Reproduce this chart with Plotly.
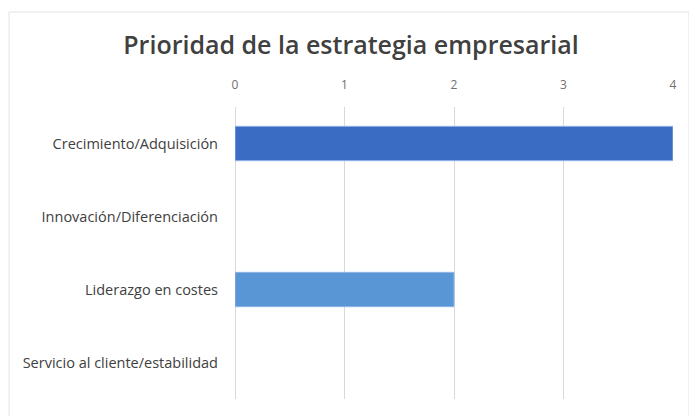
import plotly.graph_objects as go

# Strategy categories (top to bottom) and their counts
categories = [
    "Crecimiento/Adquisición",
    "Innovación/Diferenciación",
    "Liderazgo en costes",
    "Servicio al cliente/estabilidad",
]
counts = [4, 0, 2, 0]
bar_colors = ["#3a6cc4", "#3a6cc4", "#5896d6", "#3a6cc4"]

x_ticks = [0, 1, 2, 3, 4]

fig = go.Figure(
    go.Bar(
        y=categories,
        x=counts,
        orientation="h",
        marker=dict(
            color=bar_colors,
            line=dict(color="#8fb4e6", width=[1 if v > 0 else 0 for v in counts]),
        ),
        width=0.47,
        hoverinfo="x+y",
    )
)

L, R, T, B = 235, 14, 107, 17
W, H = 689, 416
pw = W - L - R
ph = H - T - B

fig.update_layout(
    width=W,
    height=H,
    margin=dict(l=L, r=R, t=T, b=B),
    paper_bgcolor="white",
    plot_bgcolor="white",
    showlegend=False,
    font=dict(family="Open Sans, sans-serif", color="#595959"),
    title=dict(
        text="Prioridad de la estrategia empresarial",
        x=351 / W,
        xanchor="center",
        y=1 - 45 / H,
        yanchor="middle",
        font=dict(size=25, color="#404040", weight=600),
    ),
    xaxis=dict(
        side="top",
        range=[0, 4],
        tickvals=x_ticks,
        ticktext=[str(v) for v in x_ticks],
        showgrid=True,
        gridcolor="#d9d9d9",
        gridwidth=1,
        zeroline=True,
        zerolinecolor="#d9d9d9",
        zerolinewidth=1,
        showline=False,
        tickfont=dict(size=12, color="#707070"),
        ticklabelstandoff=15,
        fixedrange=True,
    ),
    yaxis=dict(
        categoryorder="array",
        categoryarray=categories[::-1],
        showgrid=False,
        zeroline=False,
        showline=False,
        tickfont=dict(size=14.5, color="#404040"),
        ticklabelstandoff=16,
        fixedrange=True,
    ),
    shapes=[
        dict(
            type="rect",
            xref="paper",
            yref="paper",
            x0=(8 - L) / pw,
            x1=(W + 2 - L) / pw,
            y0=(-B - 5) / ph,
            y1=(H - 12 - B) / ph,
            line=dict(color="#e3e3e3", width=1),
            fillcolor="rgba(0,0,0,0)",
            layer="below",
        )
    ],
)

fig.write_html("out.html")
